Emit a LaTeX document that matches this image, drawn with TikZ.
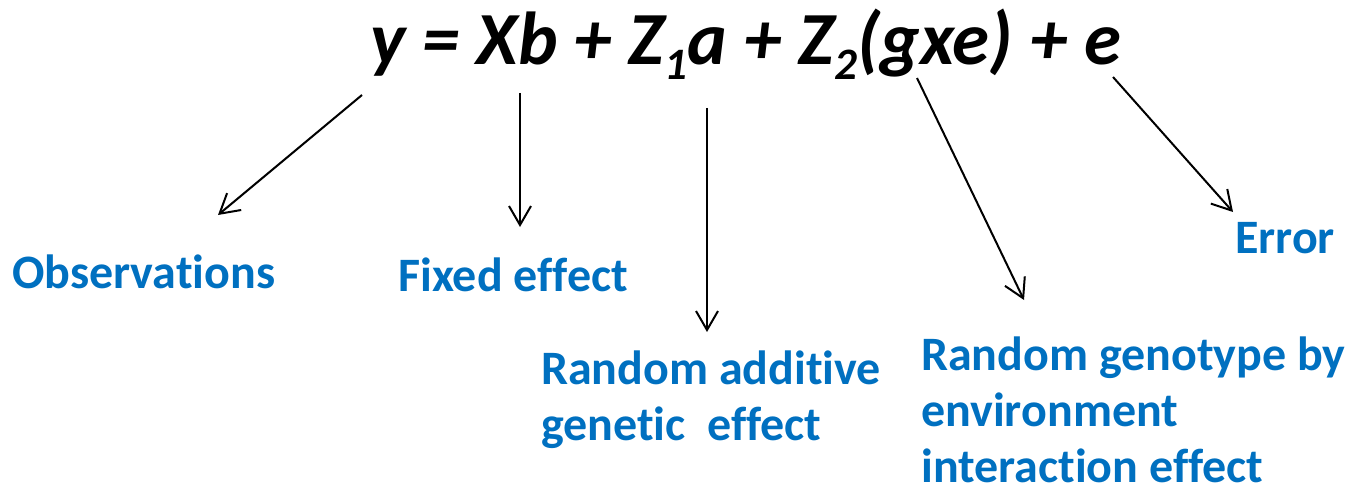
\documentclass[tikz,border=0pt]{standalone}
\usepackage{fontspec}
\setmainfont{Carlito}[Ligatures=NoCommon]
\usetikzlibrary{arrows.meta,positioning}
\definecolor{labelblue}{HTML}{0070C0}
\tikzset{>={Straight Barb[length=19pt,width=22pt]},
  pointer/.style={->,draw=black,line width=2pt},
  termlabel/.style={text=labelblue,font=\fontsize{48}{56}\selectfont\bfseries,
    align=left,anchor=base west,inner sep=0pt},
  eqn/.style={font=\fontsize{75}{80}\selectfont\bfseries\itshape,
    anchor=base west,inner sep=0pt}}
\newcommand\lowidx[1]{\raisebox{-15pt}{\fontsize{45}{45}\selectfont #1}}

\begin{document}
\begin{tikzpicture}[x=1pt,y=-1pt]
\useasboundingbox (0,0) rectangle (1349,492);
% model equation
\node[eqn] (model) at (370,65) {y = Xb + Z\lowidx{1}a + Z\lowidx{2}(gxe) + e};
% what each term means (multi-line labels sit on their last baseline)
\node[termlabel] (obs) at (12,288) {Observations};
\node[termlabel] (fix) at (398,291) {Fixed effect};
\node[termlabel] (add) at (541,440) {Random additive\\genetic\ \ effect};
\node[termlabel] (gxe) at (921,482) {Random genotype by\\environment\\interaction effect};
\node[termlabel] (err) at (1235,253) {Error};
% pointers from the terms
\foreach \n/\sx/\sy/\ex/\ey in {obs/362/95/218/215,fix/520/93/520/227,add/707/108/707/332,gxe/917/78/1024/300,err/1113/77/1233/212}{
  \coordinate(\n-from)at(\sx,\sy);\coordinate(\n-to)at(\ex,\ey);
  \draw[pointer](\n-from)--(\n-to);}
\end{tikzpicture}
\end{document}
